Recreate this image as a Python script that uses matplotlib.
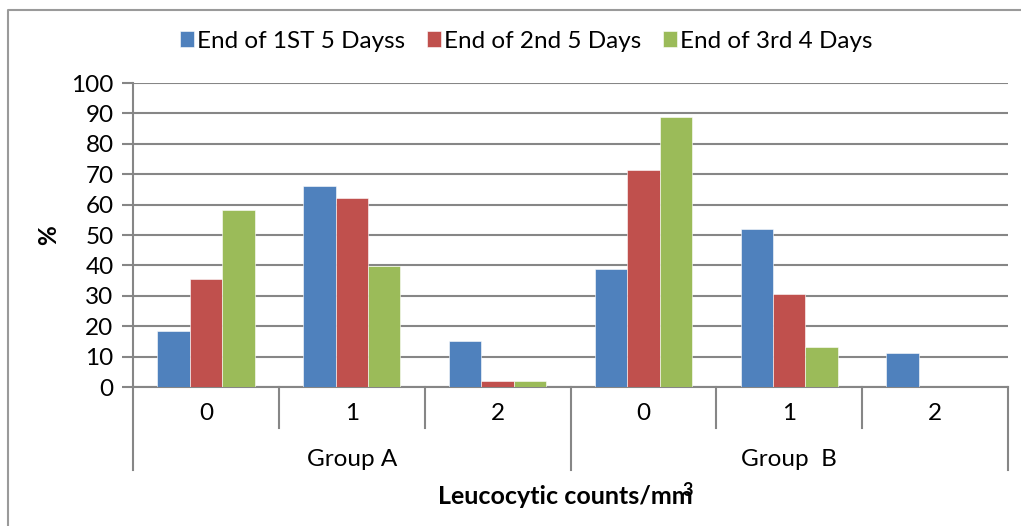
import matplotlib
matplotlib.use("Agg")
import matplotlib.pyplot as plt
from matplotlib.lines import Line2D
import matplotlib.transforms as mtransforms
import numpy as np

plt.rcParams['font.family'] = ['Lato', 'DejaVu Sans']

# data
tick_labels = ["0", "1", "2", "0", "1", "2"]
groups = ["Group A", "Group  B"]
series_names = ["End of 1ST 5 Dayss", "End of 2nd 5 Days", "End of 3rd 4 Days"]
first_5_days = [18.4, 66.2, 15.2, 38.7, 51.9, 11.1]
second_5_days = [35.6, 62.2, 2.0, 71.4, 30.5, 0.0]
third_4_days = [58.1, 39.8, 2.0, 88.8, 13.3, 0.0]
colors = ["#4F81BD", "#C0504D", "#9BBB59"]

W, H = 1021, 526
fs = 17.5
fig = plt.figure(figsize=(W / 100, H / 100), dpi=100)
left, right, top, bottom = 133, 1008, 83, 387
ax = fig.add_axes([left / W, 1 - bottom / H, (right - left) / W, (bottom - top) / H])

x = np.arange(len(tick_labels))
bar_w = 1 / 4.5
series = [first_5_days, second_5_days, third_4_days]
for i, (vals, name, c) in enumerate(zip(series, series_names, colors)):
    ax.bar(x + (i - 1) * bar_w, vals, bar_w, color=c, label=name,
           edgecolor="white", linewidth=0.4, zorder=3)

ax.set_xlim(-0.5, 5.5)
ax.set_ylim(0, 100)
ax.set_yticks(np.arange(0, 101, 10))
ax.yaxis.grid(True, color="#868686", linewidth=1.5)
ax.set_axisbelow(True)
for s in ["top", "right"]:
    ax.spines[s].set_visible(False)
for s in ["left", "bottom"]:
    ax.spines[s].set_color("#868686")
    ax.spines[s].set_linewidth(1.5)
ax.tick_params(axis="y", direction="out", length=8, width=1.5, color="#868686",
               labelsize=fs, pad=6)
ax.set_xticks([])

# two-level category axis
ah = bottom - top
trans = mtransforms.blended_transform_factory(ax.transData, ax.transAxes)
for xi, lab in zip(x, tick_labels):
    ax.text(xi, -27 / ah, lab, transform=trans, ha="center", va="center", fontsize=fs)
for gi, g in enumerate(groups):
    ax.text(1 + 3 * gi, -72 / ah, g, transform=trans, ha="center", va="center", fontsize=fs)
for b in np.arange(-0.5, 6, 1):
    depth = -83 / ah if b in (-0.5, 2.5, 5.5) else -41 / ah
    ax.add_line(Line2D([b, b], [0, depth], transform=trans, color="#868686",
                       linewidth=1.5, clip_on=False))

ax.set_ylabel("%", fontsize=fs, fontweight="bold")
ax.yaxis.set_label_coords((60 - left) / (right - left), 0.5)

xl = fig.text(565 / W, 1 - 496 / H, "Leucocytic counts/mm", ha="center", va="center",
              fontsize=18, fontweight="bold")
fig.canvas.draw()
bb = xl.get_window_extent()
fig.text((bb.x1 - 5) / W, (bb.y1 + 3) / H, "3", ha="center", va="top",
         fontsize=13, fontweight="bold")

fig.legend(loc="center", bbox_to_anchor=(526 / W, 1 - 41 / H), ncol=3, frameon=False,
           fontsize=fs, handlelength=0.6, handleheight=0.6, handletextpad=0.1,
           columnspacing=0.9, borderaxespad=0)

# outer chart border
fig.add_artist(Line2D([8 / W, 8 / W, 1], [0, 1 - 10 / H, 1 - 10 / H],
                      transform=fig.transFigure, color="#9a9a9a", linewidth=1.5))

fig.savefig("out.png", dpi=100)
